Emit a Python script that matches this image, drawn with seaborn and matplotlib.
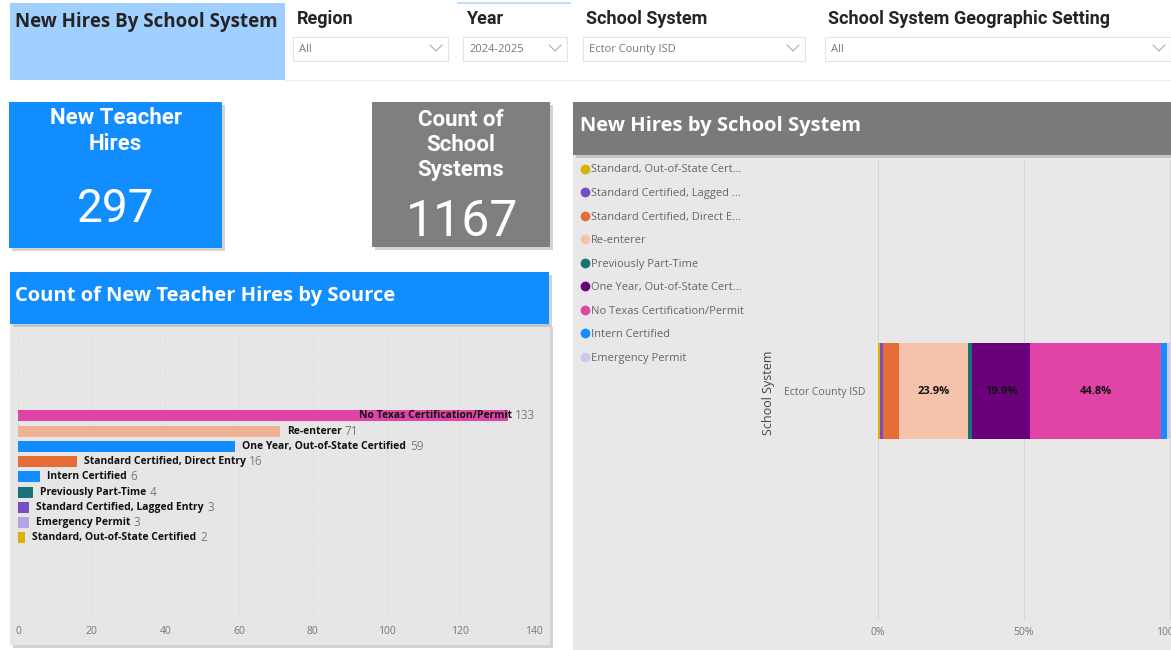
import numpy as np
import pandas as pd
import matplotlib.pyplot as plt
from matplotlib.patches import Rectangle
from matplotlib.lines import Line2D
import seaborn as sns

# Data
sources = ["No Texas Certification/Permit", "Re-enterer", "One Year, Out-of-State Certified",
           "Standard Certified, Direct Entry", "Intern Certified", "Previously Part-Time",
           "Standard Certified, Lagged Entry", "Emergency Permit", "Standard, Out-of-State Certified"]
hires = [133, 71, 59, 16, 6, 4, 3, 3, 2]
bar_colors = ["#E044A7", "#F0B096", "#118DFF", "#E66C37", "#118DFF", "#197278",
              "#744EC2", "#B7A4E2", "#D9B300"]

stack_order = ["Standard, Out-of-State Certified", "Standard Certified, Lagged Entry",
               "Standard Certified, Direct Entry", "Re-enterer", "Previously Part-Time",
               "One Year, Out-of-State Certified", "No Texas Certification/Permit",
               "Intern Certified", "Emergency Permit"]
stack_colors = ["#D9B300", "#744EC2", "#E66C37", "#F5C2AC", "#197278",
                "#6B007B", "#E044A7", "#118DFF", "#CFC5EE"]
legend_labels = ["Standard, Out-of-State Cert...", "Standard Certified, Lagged ...",
                 "Standard Certified, Direct E...", "Re-enterer", "Previously Part-Time",
                 "One Year, Out-of-State Cert...", "No Texas Certification/Permit",
                 "Intern Certified", "Emergency Permit"]
school_system = "Ector County ISD"
total_hires = 297
school_systems_count = 1167
left_ticks = [0, 20, 40, 60, 80, 100, 120, 140]
right_ticks = [0, 0.5, 1.0]
right_tick_labels = ["0%", "50%", "100%"]

slicers = [("Region", "All"), ("Year", "2024-2025"), ("School System", "Ector County ISD"),
           ("School System Geographic Setting", "All")]

sns.set_theme(style="white")
plt.rcParams["font.family"] = ["Open Sans", "DejaVu Sans"]

W, H = 1171, 650
fig = plt.figure(figsize=(W / 100, H / 100), dpi=100)
fig.patch.set_facecolor("white")


def px_axes(x0, y0, x1, y1):
    return fig.add_axes([x0 / W, 1 - y1 / H, (x1 - x0) / W, (y1 - y0) / H])


bg = fig.add_axes([0, 0, 1, 1])
bg.set_xlim(0, W)
bg.set_ylim(H, 0)
bg.axis("off")


def box(x0, y0, x1, y1, color, shadow=False, **kw):
    if shadow:
        bg.add_patch(Rectangle((x0 + 3, y0 + 3), x1 - x0, y1 - y0, color="#9E9E9E", alpha=0.45, lw=0))
    bg.add_patch(Rectangle((x0, y0), x1 - x0, y1 - y0, color=color, lw=0, **kw))


# header strip and slicers
box(10, 3, 285, 80, "#A0D0FF")
bg.text(15, 22, "New Hires By School System", fontsize=13.5, fontweight="bold", color="#252423", va="center")
bg.plot([458, 570], [3, 3], color="#BFDFFF", lw=1.5)
bg.plot([285, 1171], [80, 80], color="#EDEDED", lw=0.8)
slicer_pos = [(297, 293, 448), (467, 463, 567), (586, 583, 805), (828, 825, 1171)]
for (title, value), (tx, bx0, bx1) in zip(slicers, slicer_pos):
    bg.text(tx, 19, title, fontsize=13, fontweight="bold", color="#252423", va="center",
            family=["Roboto", "DejaVu Sans"])
    bg.add_patch(Rectangle((bx0, 37), bx1 - bx0, 24, fc="white", ec="#E3E3E3", lw=0.8))
    bg.text(bx0 + 6, 49.5, value, fontsize=8, color="#777777", va="center")
    cx = min(bx1 - 12, 1164)
    bg.plot([cx - 6, cx, cx + 6], [45, 51, 45], color="#A0A0A0", lw=0.7)

# KPI cards
box(9, 102, 222, 248, "#118DFF", shadow=True)
bg.text(115.5, 131, "New Teacher\nHires", fontsize=16, fontweight="bold", color="white",
        ha="center", va="center", linespacing=1.2, family=["Roboto", "DejaVu Sans"])
bg.text(115.5, 209, f"{total_hires}", fontsize=33, color="white", ha="center", va="center",
        family=["Roboto", "DejaVu Sans"])
box(372, 102, 550, 247, "#7F7F7F", shadow=True)
bg.text(461, 145, "Count of\nSchool\nSystems", fontsize=16, fontweight="bold", color="white",
        ha="center", va="center", linespacing=1.2, family=["Roboto", "DejaVu Sans"])
bg.text(462, 222, f"{school_systems_count}", fontsize=36, color="white", ha="center", va="center",
        family=["Roboto", "DejaVu Sans"])

# left chart frame
box(10, 324, 550, 645, "#E6E6E6", shadow=True)
box(10, 272, 549, 324, "#118DFF", shadow=True)
bg.text(15, 296, "Count of New Teacher Hires by Source", fontsize=14.5, fontweight="bold",
        color="white", va="center")

# right chart frame
box(573, 155, 1171, 650, "#E8E8E8")
box(573, 102, 1171, 155, "#7A7A7A", shadow=True)
bg.text(580, 126, "New Hires by School System", fontsize=14.5, fontweight="bold",
        color="white", va="center")

# left bar chart
ax = px_axes(18, 335, 534, 620)
ax.set_facecolor("none")
df = pd.DataFrame({"Source": sources, "Hires": hires})
sns.barplot(data=df, x="Hires", y="Source", hue="Source", palette=bar_colors, legend=False,
            orient="h", width=0.72, saturation=1, linewidth=0, edgecolor="none", ax=ax)
ax.set_xlim(0, 140)
ax.set_ylim(13.38, -5.31)
ax.set_xticks(left_ticks)
ax.tick_params(axis="x", labelsize=7.5, labelcolor="#777777", length=0, pad=4)
ax.set_yticks([])
ax.set_xlabel("")
ax.set_ylabel("")
for s in ax.spines.values():
    s.set_visible(False)
for t in left_ticks:
    ax.axvline(t, color="#D6D6D6", lw=0.7, ls=(0, (1, 2)), zorder=0)
xmax = max(hires)
for i, (name, v) in enumerate(zip(sources, hires)):
    if v == xmax:
        lab = ax.text(v + 1, i, name, ha="right", va="center", fontsize=7.5, fontweight="bold", color="#111111")
    else:
        lab = ax.text(v + 1.9, i, name, ha="left", va="center", fontsize=7.5, fontweight="bold", color="#111111")
    ax.annotate(f"{v}", xy=(1, 0.5), xycoords=lab, xytext=(2.5, 0), textcoords="offset points",
                va="center", ha="left", fontsize=8.5, color="#7A7A7A")

# right stacked bar
ax2 = px_axes(878, 160, 1171, 620)
ax2.set_facecolor("none")
counts = dict(zip(sources, hires))
shares = np.array([counts[s] for s in stack_order], dtype=float)
shares = shares / shares.sum()
lefts = np.concatenate([[0], np.cumsum(shares)[:-1]])
ax2.barh([0] * len(shares), shares, left=lefts, color=stack_colors, height=0.8, lw=0, zorder=2)
for l, w in zip(lefts, shares):
    if w > 0.1:
        ax2.text(l + w / 2, 0, f"{w * 100:.1f}%", ha="center", va="center", fontsize=8,
                 fontweight="bold", color="#111111", zorder=3)
ax2.set_xlim(0, 1.005)
ax2.set_ylim(1.908, -1.925)
ax2.set_xticks(right_ticks)
ax2.set_xticklabels(right_tick_labels)
ax2.tick_params(axis="x", labelsize=7.5, labelcolor="#777777", length=0, pad=5)
ax2.set_yticks([0])
ax2.set_yticklabels([school_system])
ax2.tick_params(axis="y", labelsize=7.5, labelcolor="#666666", length=0, pad=9)
ax2.set_ylabel("School System", fontsize=9, color="#444444")
ax2.yaxis.set_label_coords(-0.35, 0.493)
for s in ax2.spines.values():
    s.set_visible(False)
for t in right_ticks:
    ax2.axvline(t, color="#D8D8D8", lw=0.7, zorder=0)

handles = [Line2D([], [], marker="o", ls="", markersize=6, markerfacecolor=c, markeredgecolor=c)
           for c in stack_colors]
fig.legend(handles, legend_labels, loc="upper left", bbox_to_anchor=(574 / W, 1 - 160 / H),
           frameon=False, fontsize=8, handletextpad=-0.1, labelspacing=1.13, handlelength=1.2,
           labelcolor="#666666", borderaxespad=0)

fig.savefig("out.png", dpi=100)
